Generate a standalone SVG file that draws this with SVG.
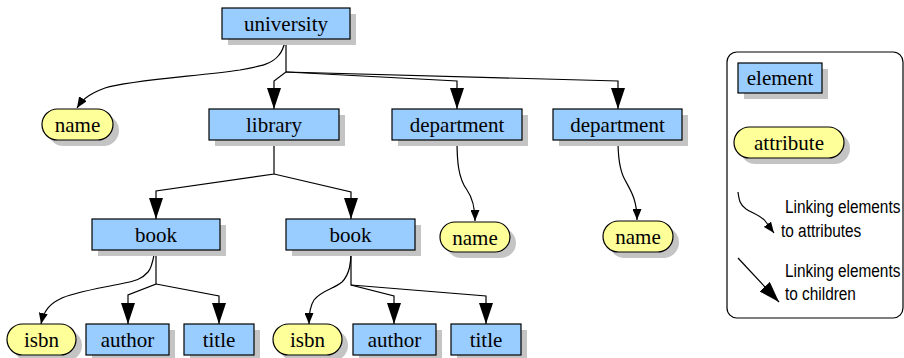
<svg xmlns="http://www.w3.org/2000/svg" width="904" height="358" viewBox="0 0 904 358">
<style>
.sh{fill:#c4c4c4;stroke:none}
.el{fill:#99ccff;stroke:#000;stroke-width:1.2}
.at{fill:#ffff99;stroke:#000;stroke-width:1.2}
.c{fill:none;stroke:#000;stroke-width:1.2}
.ch{marker-end:url(#big)}
.ah{marker-end:url(#small)}
.t{font-family:'Liberation Serif','Times New Roman',serif;font-size:21px;text-anchor:middle;fill:#000}
.lt{font-family:'Liberation Sans',Arial,sans-serif;font-size:19px;fill:#000}
</style>
<defs>
<marker id="big" viewBox="0 0 21 14" refX="21" refY="7" markerWidth="21" markerHeight="14" markerUnits="userSpaceOnUse" orient="auto"><path d="M0,0 L21,7 L0,14 z" fill="#000"/></marker>
<marker id="small" viewBox="0 0 11 9" refX="11" refY="4.5" markerWidth="11" markerHeight="9" markerUnits="userSpaceOnUse" orient="auto"><path d="M0,0 L11,4.5 L0,9 z" fill="#000"/></marker>
</defs>
<g id="connectors">
<path class="c ch" d="M286,39 L286,72 L274,81 L274,109"/>
<path class="c ch" d="M286,72 L457,81 L457,109"/>
<path class="c ch" d="M286,72 L618,81 L618,109"/>
<path class="c ah" d="M286,39 C284,46 282,52 279,55 C272,64 262,66 240,70 C200,76 130,80 105,88 C92,93 84,97 77,108"/>
<path class="c ch" d="M274,140 L274,174 L156,191 L156,219"/>
<path class="c ch" d="M274,174 L351,192 L351,219"/>
<path class="c ah" d="M457,140 C457,160 458,178 467,190 C474,200 475,210 475,221"/>
<path class="c ah" d="M618,140 C618,155 619,168 624,178 C630,190 637,198 637,220"/>
<path class="c ch" d="M156,250 L156,284 L128,295 L128,324"/>
<path class="c ch" d="M156,284 L219,296 L219,324"/>
<path class="c ah" d="M155,250 C153,260 152,268 148,272 C142,279 136,281 120,284 C95,289 70,293 60,299 C50,304 44,310 41,324"/>
<path class="c ch" d="M351,250 L351,285 L394,296 L394,324"/>
<path class="c ch" d="M351,285 L486,296 L486,324"/>
<path class="c ah" d="M351,250 C351,262 350,274 342,282 C334,289 322,290 314,300 C310,306 309,312 309,324"/>
</g>
<g id="university"><rect class="sh" x="228" y="14" width="128" height="31"/><rect class="el" x="222" y="8" width="128" height="31"/><text class="t" x="286" y="31">university</text></g>
<g id="name1"><rect class="sh" x="48" y="115" width="71" height="31" rx="15.5"/><rect class="at" x="42" y="109" width="71" height="31" rx="15.5"/><text class="t" x="77.5" y="132">name</text></g>
<g id="library"><rect class="sh" x="215" y="115" width="130" height="31"/><rect class="el" x="209" y="109" width="130" height="31"/><text class="t" x="274" y="132">library</text></g>
<g id="department1"><rect class="sh" x="398" y="115" width="130" height="31"/><rect class="el" x="392" y="109" width="130" height="31"/><text class="t" x="457" y="132">department</text></g>
<g id="department2"><rect class="sh" x="559" y="115" width="129" height="31"/><rect class="el" x="553" y="109" width="129" height="31"/><text class="t" x="617.5" y="132">department</text></g>
<g id="book1"><rect class="sh" x="98" y="225" width="128" height="31"/><rect class="el" x="92" y="219" width="128" height="31"/><text class="t" x="156" y="242">book</text></g>
<g id="book2"><rect class="sh" x="292" y="225" width="129" height="31"/><rect class="el" x="286" y="219" width="129" height="31"/><text class="t" x="350.5" y="242">book</text></g>
<g id="name2"><rect class="sh" x="446" y="228" width="70" height="30" rx="15"/><rect class="at" x="440" y="222" width="70" height="30" rx="15"/><text class="t" x="475" y="244.5">name</text></g>
<g id="name3"><rect class="sh" x="609" y="227" width="70" height="31" rx="15.5"/><rect class="at" x="603" y="221" width="70" height="31" rx="15.5"/><text class="t" x="638" y="244">name</text></g>
<g id="isbn1"><rect class="sh" x="13" y="330" width="69" height="31" rx="15.5"/><rect class="at" x="7" y="324" width="69" height="31" rx="15.5"/><text class="t" x="41.5" y="347">isbn</text></g>
<g id="author1"><rect class="sh" x="92" y="330" width="83" height="31"/><rect class="el" x="86" y="324" width="83" height="31"/><text class="t" x="127.5" y="347">author</text></g>
<g id="title1"><rect class="sh" x="190" y="330" width="70" height="31"/><rect class="el" x="184" y="324" width="70" height="31"/><text class="t" x="219" y="347">title</text></g>
<g id="isbn2"><rect class="sh" x="279" y="330" width="69" height="31" rx="15.5"/><rect class="at" x="273" y="324" width="69" height="31" rx="15.5"/><text class="t" x="307.5" y="347">isbn</text></g>
<g id="author2"><rect class="sh" x="359" y="330" width="83" height="31"/><rect class="el" x="353" y="324" width="83" height="31"/><text class="t" x="394.5" y="347">author</text></g>
<g id="title2"><rect class="sh" x="457" y="330" width="70" height="31"/><rect class="el" x="451" y="324" width="70" height="31"/><text class="t" x="486" y="347">title</text></g>
<g id="legend">
<rect x="727" y="52" width="176" height="266" rx="10" fill="#fff" stroke="#000" stroke-width="1.2"/>
<rect class="sh" x="744" y="69" width="84" height="30"/><rect class="el" x="738" y="63" width="84" height="30"/><text class="t" x="780" y="85">element</text>
<rect class="sh" x="740" y="133" width="110" height="31" rx="15.5"/><rect class="at" x="734" y="127" width="110" height="31" rx="15.5"/><text class="t" x="789" y="150">attribute</text>
<path class="c ah" d="M738,192 C739,200 740,205 746,209 C754,214 762,216 766,222 C769,226 771,229 774,233"/>
<path class="c ch" d="M738,258 L779,302"/>
<text class="lt" transform="translate(785,213) scale(0.81,1)">Linking elements</text>
<text class="lt" transform="translate(781,237) scale(0.81,1)">to attributes</text>
<text class="lt" transform="translate(785,277) scale(0.81,1)">Linking elements</text>
<text class="lt" transform="translate(785,300) scale(0.81,1)">to children</text>
</g>
</svg>
